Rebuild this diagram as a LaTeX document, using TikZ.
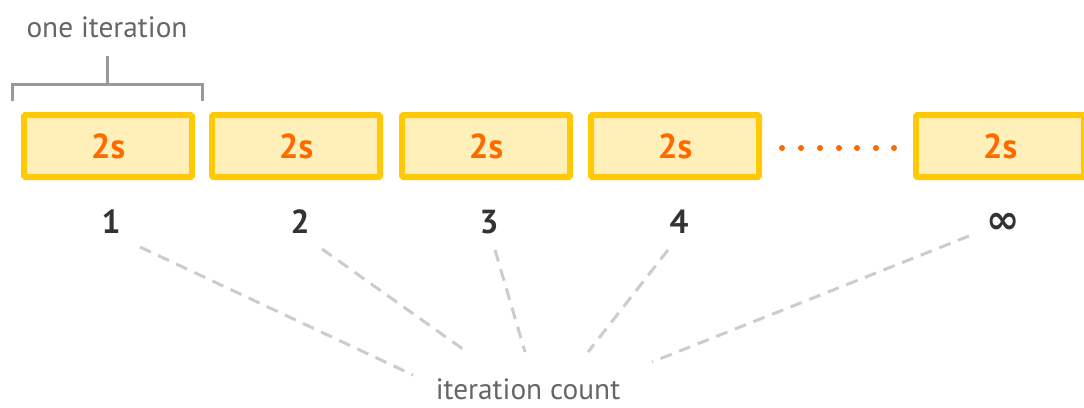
\documentclass[tikz,border=0pt]{standalone}
\usepackage{fontspec}
\setmainfont{PT Sans}
\newfontfamily\symfont{DejaVu Sans}
\usetikzlibrary{positioning}
\definecolor{boxfill}{HTML}{FFF0BA}
\definecolor{boxline}{HTML}{FFC905}
\definecolor{timecol}{HTML}{FF6A00}
\definecolor{numcol}{HTML}{333333}
\definecolor{notecol}{HTML}{666666}
\definecolor{bracketcol}{HTML}{999999}
\definecolor{dashcol}{HTML}{CCCCCC}
\newcommand\boxy{146}
\newcommand\numy{233}
\tikzset{box/.style={rectangle,draw=boxline,fill=boxfill,line width=4.5pt,rounded corners=1pt,
                     minimum width=126pt,minimum height=46.5pt,text=timecol,
                     font=\bfseries\fontsize{26}{26}\selectfont},
         count/.style={anchor=base,text=numcol,font=\bfseries\fontsize{25}{25}\selectfont},
         note/.style={anchor=base,text=notecol,font=\fontsize{22}{22}\selectfont},
         bracket/.style={draw=bracketcol,line width=2.25pt},
         guide/.style={draw=dashcol,line width=2.25pt,dash pattern=on 9pt off 6pt}}

\begin{document}
\begin{tikzpicture}[x=0.75pt,y=-0.75pt]
                \useasboundingbox (0,0) rectangle (1084,407);
                % the iterations
                \foreach \n/\x in {1/108,2/296,3/486,4/675,5/1000}{\node[box] (b\n) at (\x,\boxy) {2s};}
                \foreach \x in {782,801,820,839,857,876,894}{\fill[timecol] (\x,148) circle (3);}

                \node[count] (n1) at (111,\numy) {1};
                \node[count] (n2) at (300,\numy) {2};
                \node[count] (n3) at (489,\numy) {3};
                \node[count] (n4) at (679,\numy) {4};
                \node[count,font=\symfont\bfseries\fontsize{30}{30}\selectfont] (n5) at (1003,\numy) {∞};

                % one iteration bracket
                \node[note] (one) at (107,37) {one iteration};
                \draw[bracket] (12,101) -- (12,84) -- (202,84) -- (202,101);
                \draw[bracket] (107,84) -- (107,56);

                % iteration count
                \node[note] (total) at (528,399) {iteration count};
                \coordinate (s1) at (140,247); \coordinate (e1) at (413,375);
                \coordinate (s2) at (322,249); \coordinate (e2) at (467,352);
                \coordinate (s3) at (495,250); \coordinate (e3) at (525,352);
                \coordinate (s4) at (668,250); \coordinate (e4) at (588,352);
                \coordinate (s5) at (969,236); \coordinate (e5) at (652,362);
                \foreach \i in {1,...,5}{\draw[guide] (s\i) -- (e\i);}
            \end{tikzpicture}
\end{document}
